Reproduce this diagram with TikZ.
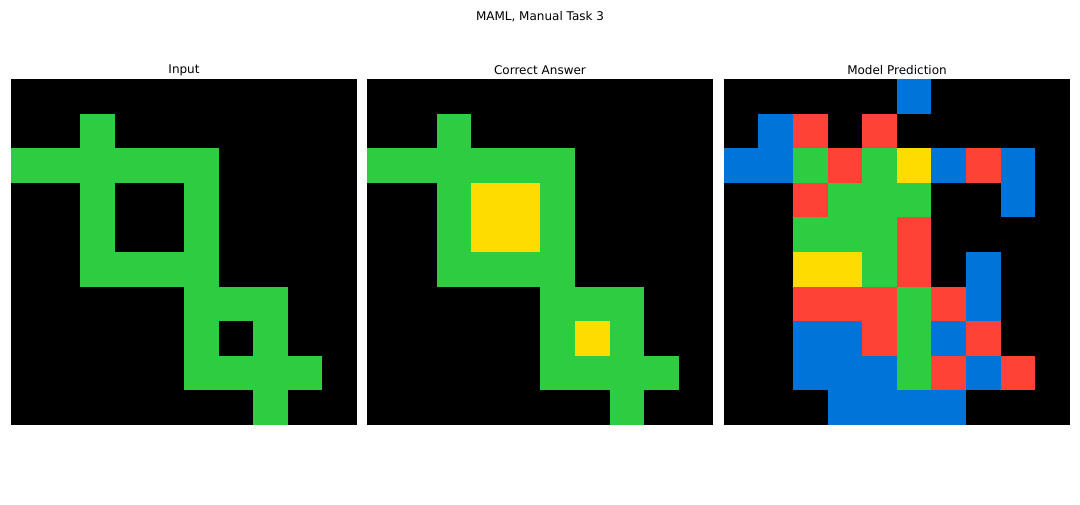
\documentclass[tikz,border=0pt]{standalone}
\usepackage{fontspec}
\setmainfont{DejaVu Sans}
\definecolor{c0}{HTML}{000000}
\definecolor{c1}{HTML}{0074D9}
\definecolor{c2}{HTML}{FF4136}
\definecolor{c3}{HTML}{2ECC40}
\definecolor{c4}{HTML}{FFDC00}
\tikzset{
  ttl/.style={font=\fontsize{12}{14}\selectfont, inner sep=0pt, anchor=center},
}
\newcommand{\drawgrid}[2]{%
  \fill[c0] (#1,79) rectangle ++(346,346);
  \foreach \row [count=\r from 0] in {#2} {
    \foreach \v [count=\k from 0] in \row {
      \ifnum\v>0
        \fill[c\v] ({#1+\k*34.6},{79+\r*34.6}) rectangle ++(34.6,34.6);
      \fi
    }
  }
}
\begin{document}
\begin{tikzpicture}[x=1pt,y=-1pt]
\useasboundingbox (0,0) rectangle (1080,504);
\node[ttl] (title) at (540,17) {MAML, Manual Task 3};
\node[ttl] (tin) at (184,70) {Input};
\node[ttl] (tcor) at (540,70) {Correct Answer};
\node[ttl] (tpred) at (897,70) {Model Prediction};
\drawgrid{11}{{0,0,0,0,0,0,0,0,0,0},{0,0,3,0,0,0,0,0,0,0},{3,3,3,3,3,3,0,0,0,0},{0,0,3,0,0,3,0,0,0,0},{0,0,3,0,0,3,0,0,0,0},{0,0,3,3,3,3,0,0,0,0},{0,0,0,0,0,3,3,3,0,0},{0,0,0,0,0,3,0,3,0,0},{0,0,0,0,0,3,3,3,3,0},{0,0,0,0,0,0,0,3,0,0}}
\drawgrid{367.3}{{0,0,0,0,0,0,0,0,0,0},{0,0,3,0,0,0,0,0,0,0},{3,3,3,3,3,3,0,0,0,0},{0,0,3,4,4,3,0,0,0,0},{0,0,3,4,4,3,0,0,0,0},{0,0,3,3,3,3,0,0,0,0},{0,0,0,0,0,3,3,3,0,0},{0,0,0,0,0,3,4,3,0,0},{0,0,0,0,0,3,3,3,3,0},{0,0,0,0,0,0,0,3,0,0}}
\drawgrid{723.7}{{0,0,0,0,0,1,0,0,0,0},{0,1,2,0,2,0,0,0,0,0},{1,1,3,2,3,4,1,2,1,0},{0,0,2,3,3,3,0,0,1,0},{0,0,3,3,3,2,0,0,0,0},{0,0,4,4,3,2,0,1,0,0},{0,0,2,2,2,3,2,1,0,0},{0,0,1,1,2,3,1,2,0,0},{0,0,1,1,1,3,2,1,2,0},{0,0,0,1,1,1,1,0,0,0}}
\end{tikzpicture}
\end{document}
